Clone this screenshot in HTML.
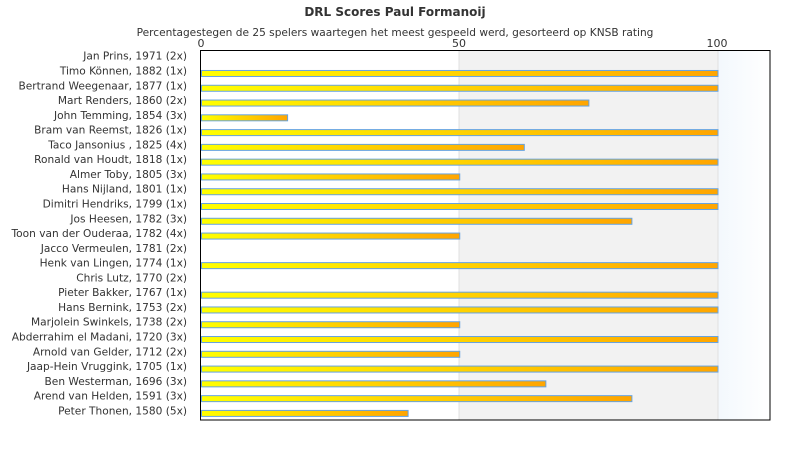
<!DOCTYPE html>
<html><head><meta charset="utf-8"><style>
body{margin:0;background:#fff}
svg{display:block;font-family:"DejaVu Sans","Liberation Sans",sans-serif}
</style></head><body>
<svg width="790" height="450" viewBox="0 0 790 450">
<defs>
<linearGradient id="g" x1="0" x2="1" y1="0" y2="0"><stop offset="0" stop-color="#ffff00"/><stop offset="1" stop-color="#ffa500"/></linearGradient>
<linearGradient id="bg" x1="0" x2="1"><stop offset="0" stop-color="#f3f8fd"/><stop offset="1" stop-color="#ffffff"/></linearGradient>
</defs>
<text x="395" y="16" text-anchor="middle" font-size="12" font-weight="bold" fill="#333">DRL Scores Paul Formanoij</text>
<text x="395" y="36" text-anchor="middle" font-size="10.6" fill="#333">Percentagestegen de 25 spelers waartegen het meest gespeeld werd, gesorteerd op KNSB rating</text>
<g font-size="11" fill="#333" text-anchor="middle">
<text x="201" y="47">0</text><text x="459" y="47">50</text><text x="717" y="47">100</text>
</g>
<rect x="459" y="50" width="259" height="370" fill="#f2f2f2"/>
<rect x="718" y="50" width="52" height="370" fill="url(#bg)"/>
<line x1="459" y1="50" x2="459" y2="420" stroke="#e0e0e0"/>
<line x1="718" y1="50" x2="718" y2="420" stroke="#e0e0e0"/>
<rect x="200.5" y="50.5" width="569.5" height="369.5" fill="none" stroke="#000"/>
<g id="bars" stroke="#66a3e0" stroke-width="1" fill="url(#g)"></g>
<g id="labels" font-size="10.6" fill="#333" text-anchor="end"></g>
<script>
var d=[["Jan Prins, 1971 (2x)",0],["Timo Können, 1882 (1x)",100],["Bertrand Weegenaar, 1877 (1x)",100],["Mart Renders, 1860 (2x)",75],["John Temming, 1854 (3x)",16.67],["Bram van Reemst, 1826 (1x)",100],["Taco Jansonius , 1825 (4x)",62.5],["Ronald van Houdt, 1818 (1x)",100],["Almer Toby, 1805 (3x)",50],["Hans Nijland, 1801 (1x)",100],["Dimitri Hendriks, 1799 (1x)",100],["Jos Heesen, 1782 (3x)",83.33],["Toon van der Ouderaa, 1782 (4x)",50],["Jacco Vermeulen, 1781 (2x)",0],["Henk van Lingen, 1774 (1x)",100],["Chris Lutz, 1770 (2x)",0],["Pieter Bakker, 1767 (1x)",100],["Hans Bernink, 1753 (2x)",100],["Marjolein Swinkels, 1738 (2x)",50],["Abderrahim el Madani, 1720 (3x)",100],["Arnold van Gelder, 1712 (2x)",50],["Jaap-Hein Vruggink, 1705 (1x)",100],["Ben Westerman, 1696 (3x)",66.67],["Arend van Helden, 1591 (3x)",83.33],["Peter Thonen, 1580 (5x)",40]];
var ns="http://www.w3.org/2000/svg",B=document.getElementById("bars"),L=document.getElementById("labels");
d.forEach(function(r,i){var c=58.2+i*14.78;
var t=document.createElementNS(ns,"text");t.setAttribute("x",187);t.setAttribute("y",c+1.5);t.textContent=r[0];L.appendChild(t);
if(r[1]>0){var b=document.createElementNS(ns,"rect");b.setAttribute("x",201.5);b.setAttribute("y",c-2.5);b.setAttribute("width",r[1]*5.165);b.setAttribute("height",6);B.appendChild(b);}});
</script>
</svg>
</body></html>
